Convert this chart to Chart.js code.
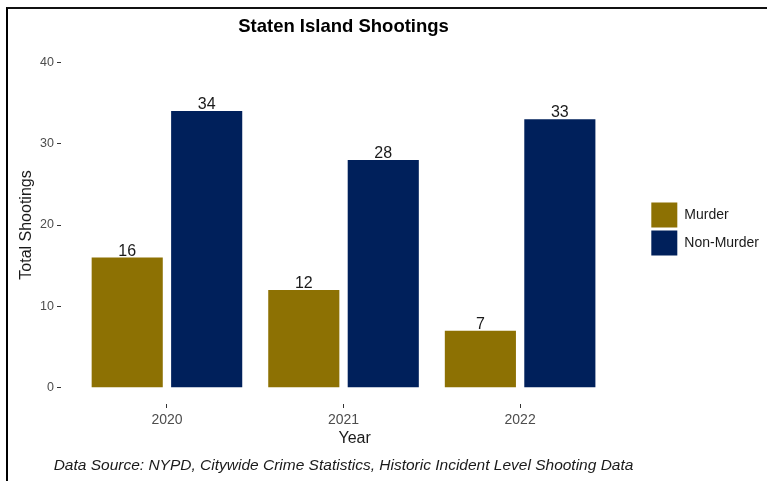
<!DOCTYPE html>
<html><head><meta charset="utf-8">
<script src="https://cdn.jsdelivr.net/npm/chart.js@4/dist/chart.umd.min.js"></script>
<style>
html,body{margin:0;padding:0;background:#fff;}
#wrap{position:relative;width:767px;height:481px;overflow:hidden;}
#frame{position:absolute;left:6px;top:7px;right:-4px;bottom:-4px;border-left:2px solid #000;border-top:2px solid #111;pointer-events:none;}
canvas{position:absolute;left:0;top:0;}
</style></head><body>
<div id="wrap"><canvas id="c" width="767" height="481"></canvas><div id="frame"></div></div>
<script>
// ---- data ----
const chartTitle = 'Staten Island Shootings';
const captionText = 'Data Source: NYPD, Citywide Crime Statistics, Historic Incident Level Shooting Data';
const xTitle = 'Year';
const yTitle = 'Total Shootings';
const years = ['2020', '2021', '2022'];
const seriesNames = ['Murder', 'Non-Murder'];
const murder = [16, 12, 7];
const nonMurder = [34, 28, 33];
const yTicks = [0, 10, 20, 30, 40];
const seriesColors = ['#8D7103', '#00205B'];

const FONT = "'Liberation Sans', Arial, sans-serif";
Chart.defaults.font.family = FONT;

const seriesValues = [murder, nonMurder];
const yearPos = years.map((y, i) => i + 1);

const titlePlugin = {
  id: 'titlePlugin',
  afterDraw(chart) {
    const ctx = chart.ctx;
    const xs = chart.scales.x;
    const cx = xs.getPixelForValue(yearPos[1]);
    ctx.save();
    ctx.fillStyle = '#000';
    ctx.textAlign = 'center';
    ctx.textBaseline = 'middle';
    ctx.font = 'bold 18.5px ' + FONT;
    ctx.fillText(chartTitle, cx, 27);
    ctx.font = 'italic 15.5px ' + FONT;
    ctx.fillStyle = '#1a1a1a';
    ctx.fillText(captionText, cx, 466);
    ctx.restore();
  }
};

const valueLabels = {
  id: 'valueLabels',
  afterDatasetsDraw(chart) {
    const ctx = chart.ctx;
    ctx.save();
    ctx.font = '16px ' + FONT;
    ctx.fillStyle = '#1a1a1a';
    ctx.textAlign = 'center';
    ctx.textBaseline = 'alphabetic';
    chart.data.datasets.forEach((ds, di) => {
      const meta = chart.getDatasetMeta(di);
      meta.data.forEach((el, i) => {
        ctx.fillText(String(seriesValues[di][i]), el.x, el.y - 2);
      });
    });
    ctx.restore();
  }
};

new Chart(document.getElementById('c'), {
  type: 'bar',
  data: {
    datasets: seriesNames.map((name, di) => ({
      label: name,
      data: seriesValues[di].map((v, i) => ({ x: yearPos[i], y: v })),
      backgroundColor: seriesColors[di],
      borderWidth: 0,
      categoryPercentage: 0.9,
      barPercentage: 0.895
    }))
  },
  options: {
    responsive: false,
    devicePixelRatio: 1,
    animation: false,
    layout: { padding: { left: 0, top: 46, right: -2, bottom: 33 } },
    plugins: {
      title: { display: false },
      tooltip: { enabled: false },
      legend: {
        position: 'right',
        fullSize: false,
        align: 'center',
        title: { display: true, text: '', font: { size: 5 }, padding: 1 },
        labels: {
          boxWidth: 26,
          boxHeight: 25,
          padding: 3,
          color: '#1a1a1a',
          font: { size: 14 }
        }
      }
    },
    scales: {
      x: {
        type: 'linear',
        min: 0.4,
        max: 3.726,
        offset: false,
        border: { display: false },
        grid: { display: true, drawOnChartArea: false, drawTicks: true, tickLength: 4, color: '#333333', offset: false },
        ticks: {
          color: '#4d4d4d',
          font: { size: 14 },
          padding: 4,
          maxRotation: 0,
          autoSkip: false,
          callback: (v) => years[Math.round(v) - 1] ?? ''
        },
        title: { display: true, text: xTitle, color: '#1a1a1a', font: { size: 16 }, padding: { top: 0, bottom: 0 } },
        afterBuildTicks: (s) => { s.ticks = yearPos.map(v => ({ value: v })); },
        afterFit: (s) => { s.height = 44; }
      },
      y: {
        type: 'linear',
        min: -2,
        max: 42,
        border: { display: false },
        grid: { display: true, drawOnChartArea: false, drawTicks: true, tickLength: 4, color: '#333333' },
        ticks: { color: '#4d4d4d', font: { size: 12.5 }, padding: 3 },
        title: { display: true, text: yTitle, color: '#1a1a1a', font: { size: 16 }, padding: { top: 17, bottom: 0 } },
        afterBuildTicks: (s) => { s.ticks = yTicks.map(v => ({ value: v })); },
        afterFit: (s) => { s.width = 61; }
      }
    }
  },
  plugins: [titlePlugin, valueLabels]
});
</script>
</body></html>
